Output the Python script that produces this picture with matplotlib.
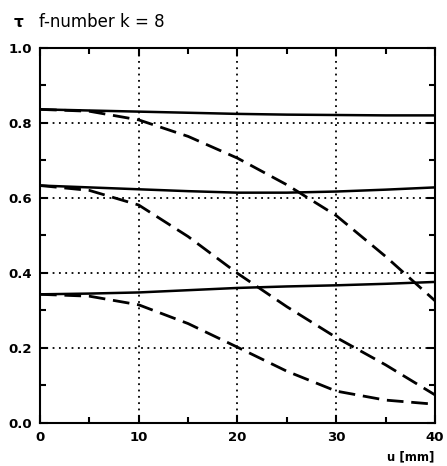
import numpy as np
import matplotlib
matplotlib.use('Agg')
import matplotlib.pyplot as plt
from matplotlib.ticker import MultipleLocator

# image height u [mm]
u = [0, 5, 10, 15, 20, 25, 30, 35, 40]

# solid curves (approx. flat)
tau_top = [0.836, 0.833, 0.830, 0.827, 0.824, 0.822, 0.821, 0.820, 0.820]
tau_mid = [0.633, 0.628, 0.623, 0.618, 0.614, 0.614, 0.617, 0.622, 0.628]
tau_low = [0.343, 0.345, 0.348, 0.354, 0.360, 0.364, 0.367, 0.371, 0.376]

# dashed curves (falling off)
dash_top = [0.836, 0.831, 0.808, 0.764, 0.706, 0.635, 0.553, 0.444, 0.326]
dash_mid = [0.633, 0.620, 0.581, 0.497, 0.399, 0.310, 0.228, 0.155, 0.075]
dash_low = [0.343, 0.338, 0.315, 0.265, 0.202, 0.138, 0.085, 0.061, 0.050]

fig = plt.figure(figsize=(4.47, 4.66), dpi=100)
ax = fig.add_axes([0.0895, 0.0923, 0.8835, 0.805])

for ys in (tau_top, tau_mid, tau_low):
    ax.plot(u, ys, color='black', lw=1.8, solid_capstyle='butt')
for ys in (dash_top, dash_mid, dash_low):
    ax.plot(u, ys, color='black', lw=2.0, dashes=(6, 2.8))

ax.set_xlim(0, 40)
ax.set_ylim(0, 1.0)
ax.xaxis.set_major_locator(MultipleLocator(10))
ax.xaxis.set_minor_locator(MultipleLocator(5))
ax.yaxis.set_major_locator(MultipleLocator(0.2))
ax.yaxis.set_minor_locator(MultipleLocator(0.1))
ax.yaxis.set_major_formatter(matplotlib.ticker.FormatStrFormatter('%.1f'))

ax.grid(True, which='major', color='black', linestyle=(0, (1, 2.5)), lw=1.3)

ax.tick_params(which='both', direction='in', top=True, right=True, width=1.5)
ax.tick_params(which='major', length=6, labelsize=9.5, pad=6)
ax.tick_params(which='minor', length=4)
for lab in ax.get_xticklabels() + ax.get_yticklabels():
    lab.set_fontweight('bold')
for s in ax.spines.values():
    s.set_linewidth(1.5)

fig.text(0.03, 0.952, 'τ', fontsize=11, fontweight='bold', va='center')
fig.text(0.088, 0.952, 'f-number k = 8', fontsize=12, va='center')
fig.text(0.972, 0.006, 'u [mm]', fontsize=8.5, fontweight='bold', ha='right', va='bottom')

fig.savefig('out.png', dpi=100)
